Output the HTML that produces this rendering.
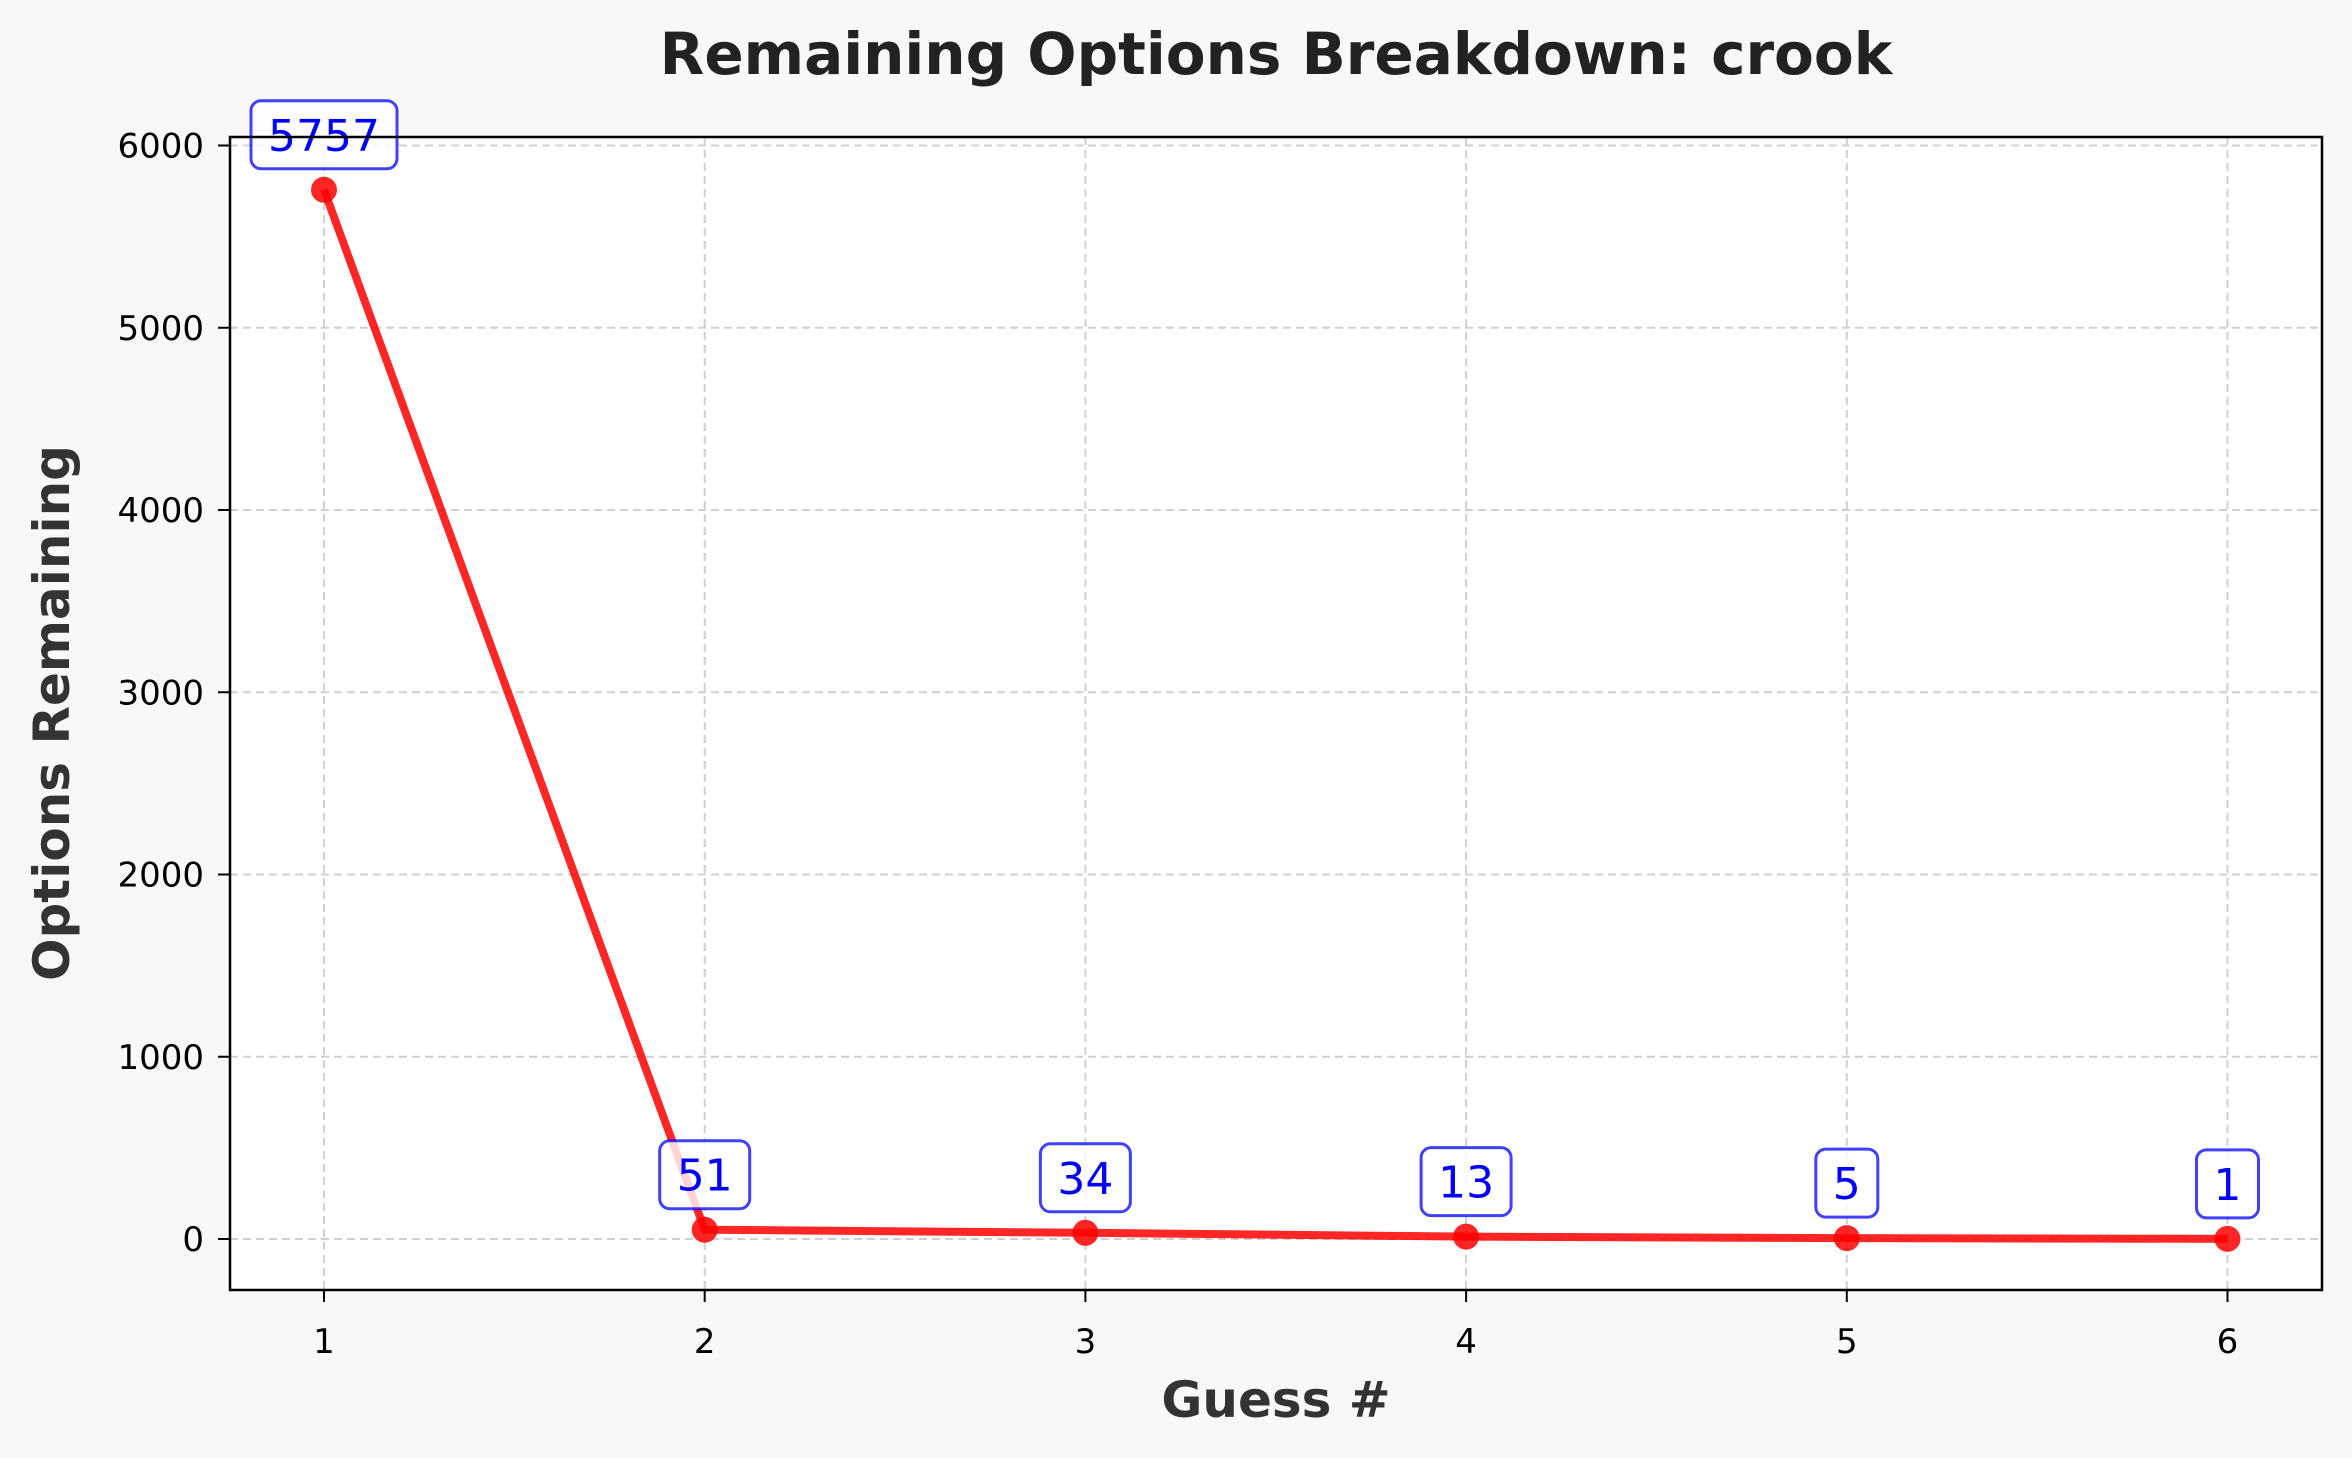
<!DOCTYPE html>
<html><head><meta charset="utf-8"><style>
body{margin:0;background:#f8f8f8;}
svg{display:block;font-family:"DejaVu Sans","Liberation Sans",sans-serif;}
</style></head><body>
<svg id="chart" width="2352" height="1458" viewBox="0 0 2352 1458" xmlns="http://www.w3.org/2000/svg">
<rect x="0" y="0" width="2352" height="1458" fill="#f8f8f8"/>
<rect x="230" y="137" width="2092" height="1153" fill="#ffffff"/>
<g id="grid"></g>
<g id="series"></g>
<g id="labels"></g>
<rect x="230" y="137" width="2092" height="1153" fill="none" stroke="#000" stroke-width="2.5"/>
<g id="ticks"></g>
<text x="1276" y="74" text-anchor="middle" font-size="58" font-weight="bold" fill="#222">Remaining Options Breakdown: crook</text>
<text x="1276" y="1417" text-anchor="middle" font-size="50" font-weight="bold" fill="#333">Guess #</text>
<text transform="translate(69,713) rotate(-90)" text-anchor="middle" font-size="50" font-weight="bold" fill="#333">Options Remaining</text>
</svg>
<script>
const guesses=[1,2,3,4,5,6];
const remaining=[5757,51,34,13,5,1];
const yTicks=[0,1000,2000,3000,4000,5000,6000];
const NS="http://www.w3.org/2000/svg";
function xs(v){return 324+(v-1)*380.7;}
function ys(v){return 1239-v*0.18225;}
function mk(tag,attrs,parent){const e=document.createElementNS(NS,tag);for(const k in attrs)e.setAttribute(k,attrs[k]);parent.appendChild(e);return e;}
const grid=document.getElementById('grid'),ticks=document.getElementById('ticks'),series=document.getElementById('series'),labels=document.getElementById('labels');
guesses.forEach(g=>{
  const x=xs(g);
  const l=mk('line',{x1:x,x2:x,y1:137,y2:1290,stroke:'#d0d0d0','stroke-width':2,'stroke-dasharray':'8,5'},grid);
  
  
  const t=mk('line',{x1:x,x2:x,y1:1290,y2:1302,stroke:'#000','stroke-width':2},ticks);
  
  
  const tx=mk('text',{x:x,y:1353,'text-anchor':'middle','font-size':34,fill:'#000'},ticks);
  tx.textContent=g;
  
  
});
yTicks.forEach(v=>{
  const y=ys(v);
  const l=mk('line',{x1:230,x2:2322,y1:y,y2:y,stroke:'#d0d0d0','stroke-width':2,'stroke-dasharray':'8,5'},grid);
  
  
  const t=mk('line',{x1:218,x2:230,y1:y,y2:y,stroke:'#000','stroke-width':2},ticks);
  
  
  const tx=mk('text',{x:204,y:y+12,'text-anchor':'end','font-size':34,fill:'#000'},ticks);
  tx.textContent=v;
  
  
});
const pts=guesses.map((g,i)=>xs(g)+','+ys(remaining[i])).join(' ');
const pl=mk('polyline',{points:pts,fill:'none',stroke:'#ff0000','stroke-opacity':0.85,'stroke-width':8,'stroke-linejoin':'round'},series);


guesses.forEach((g,i)=>{
  const x=xs(g),y=ys(remaining[i]);
  const c=mk('circle',{cx:x,cy:y,r:13,fill:'#ff0000','fill-opacity':0.85},series);
  
  
  const s=String(remaining[i]);
  const w=s.length*28+34;
  const r=mk('rect',{x:x-w/2,y:y-89,width:w,height:68,rx:10,fill:'#fff','fill-opacity':0.8,stroke:'#0000ff','stroke-opacity':0.75,'stroke-width':3},labels);
  
  
  const t=mk('text',{x:x,y:y-39,'text-anchor':'middle','font-size':44,fill:'#0000ff'},labels);
  t.textContent=s;
  
  
});
</script>
</body></html>
